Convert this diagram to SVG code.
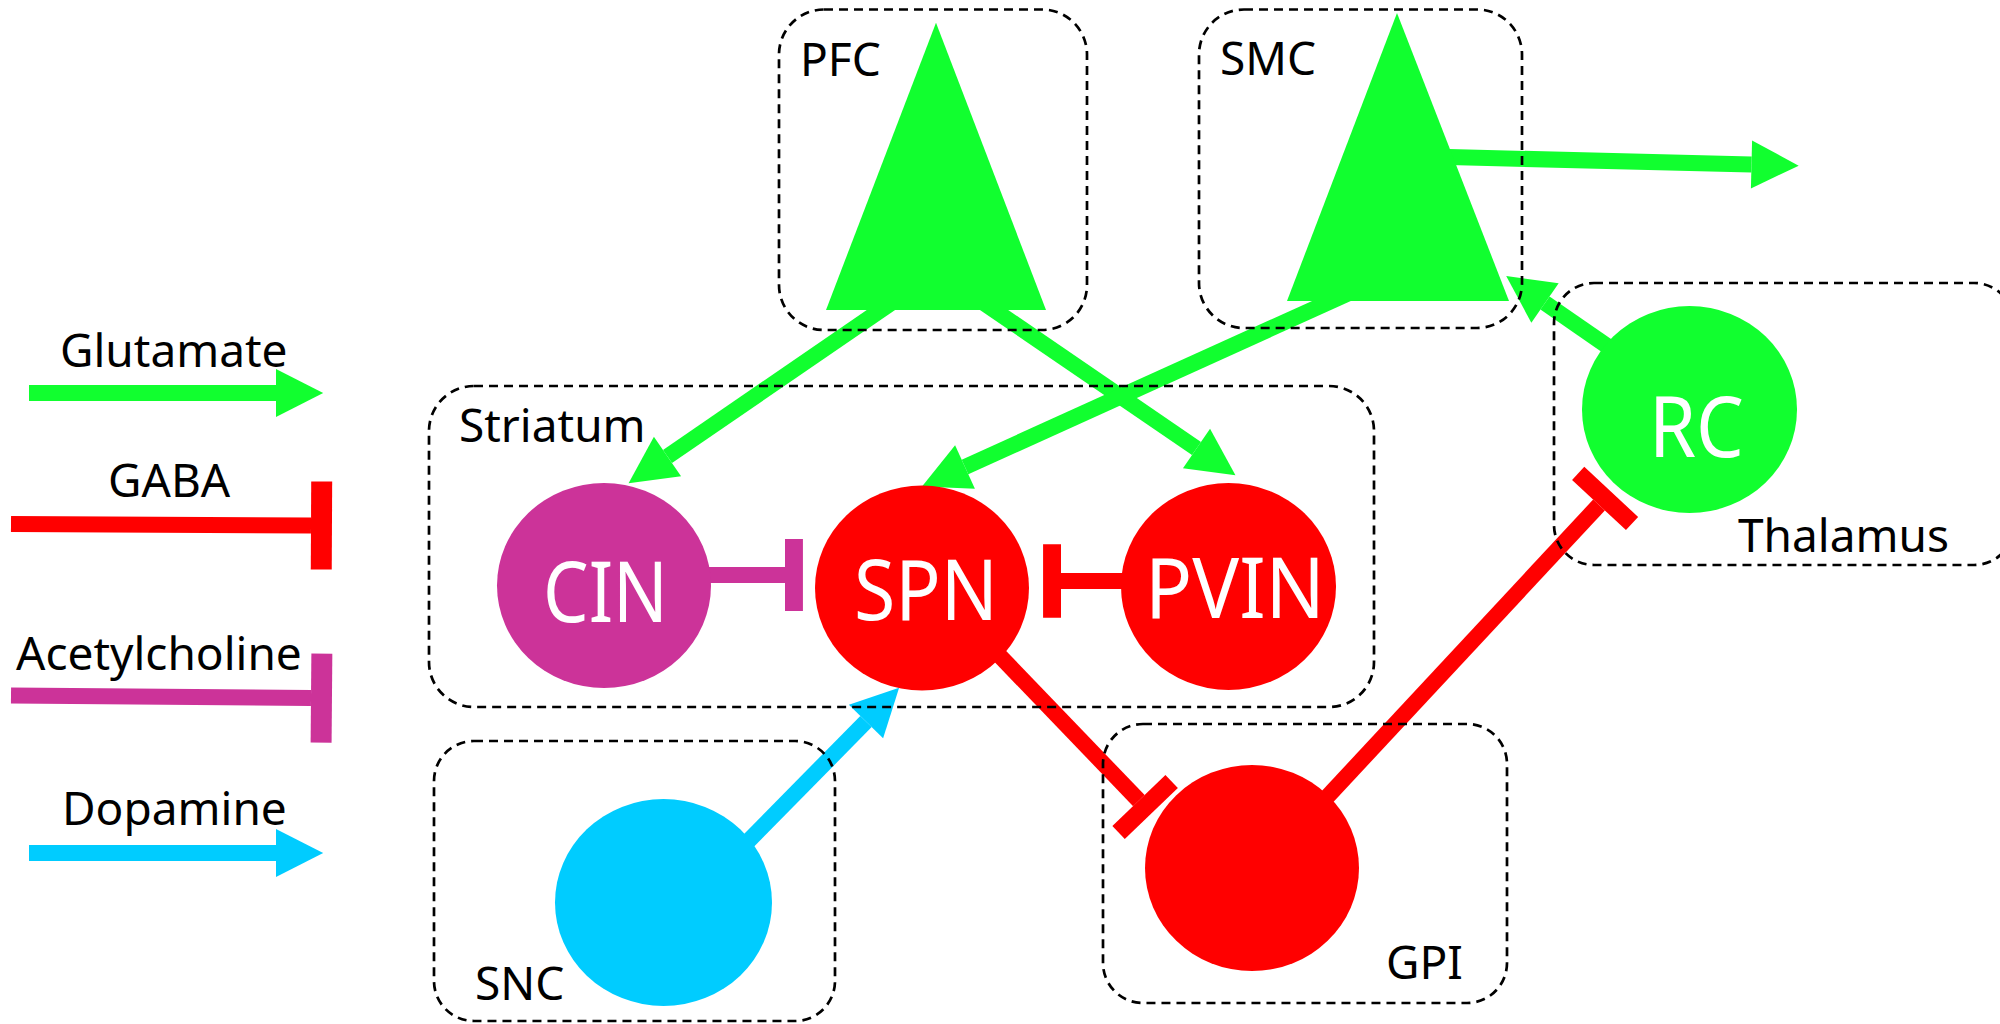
<svg xmlns="http://www.w3.org/2000/svg" width="2000" height="1024" viewBox="0 0 2000 1024">
<style>
.region{fill:none;stroke:#000;stroke-width:2.7;stroke-dasharray:9 6}
.lbl{font-family:"Noto Sans","Open Sans",sans-serif;font-size:46px;fill:#000}
.nlbl{font-family:"Noto Sans","Open Sans",sans-serif;font-size:84px;fill:#fff;text-anchor:middle}
.glu{stroke:#11ff2f;stroke-width:16;fill:none}
.da{stroke:#00ccff;stroke-width:16;fill:none}
.gaba{stroke:#ff0000;stroke-width:16;fill:none}
.ach{stroke:#cc3399;stroke-width:16;fill:none}
</style>
<defs>
<marker id="arGlu" markerWidth="4" markerHeight="4" refX="0" refY="0" orient="auto" overflow="visible"><path d="M0,-1.5 L2.95,0 L0,1.5 Z" fill="#11ff2f"/></marker>
<marker id="arDa" markerWidth="4" markerHeight="4" refX="0" refY="0" orient="auto" overflow="visible"><path d="M0,-1.5 L2.95,0 L0,1.5 Z" fill="#00ccff"/></marker>
<marker id="barGaba" markerWidth="4" markerHeight="6" refX="0" refY="0" orient="auto" overflow="visible"><rect x="0" y="-2.3" width="1.12" height="4.6" fill="#ff0000"/></marker>
<marker id="barAch" markerWidth="4" markerHeight="6" refX="0" refY="0" orient="auto" overflow="visible"><rect x="0" y="-2.25" width="1.12" height="4.5" fill="#cc3399"/></marker>
<marker id="barGabaLg" markerWidth="4" markerHeight="6" refX="0" refY="0" orient="auto" overflow="visible"><rect x="0" y="-2.75" width="1.31" height="5.5" fill="#ff0000"/></marker>
<marker id="barAchLg" markerWidth="4" markerHeight="6" refX="0" refY="0" orient="auto" overflow="visible"><rect x="0" y="-2.78" width="1.31" height="5.56" fill="#cc3399"/></marker>
</defs>

<g id="legend">
<text class="lbl" x="60" y="367">Glutamate</text>
<line class="glu" x1="29" y1="393" x2="276" y2="393" marker-end="url(#arGlu)"/>
<text class="lbl" x="108" y="497">GABA</text>
<line class="gaba" x1="11" y1="524" x2="311" y2="525.5" marker-end="url(#barGabaLg)"/>
<text class="lbl" x="16" y="670">Acetylcholine</text>
<line class="ach" x1="11" y1="695.5" x2="311" y2="698" marker-end="url(#barAchLg)"/>
<text class="lbl" x="62" y="825">Dopamine</text>
<line class="da" x1="29" y1="853" x2="276" y2="853" marker-end="url(#arDa)"/>
</g>

<g id="connectors">
<line class="glu" x1="897.5" y1="298.7" x2="667.5" y2="456.5" marker-end="url(#arGlu)"/>
<line class="glu" x1="977.5" y1="298.7" x2="1196.5" y2="448.5" marker-end="url(#arGlu)"/>
<line class="glu" x1="1349.7" y1="292.7" x2="965" y2="467" marker-end="url(#arGlu)"/>
<line class="glu" x1="1420" y1="156.3" x2="1751.5" y2="164.5" marker-end="url(#arGlu)"/>
<line class="glu" x1="1635.5" y1="365.7" x2="1545" y2="303" marker-end="url(#arGlu)"/>
<line class="da" x1="725.6" y1="864.1" x2="866" y2="721.5" marker-end="url(#arDa)"/>
<line class="ach" x1="680" y1="575" x2="785" y2="575" marker-end="url(#barAch)"/>
<line class="gaba" x1="1160" y1="581" x2="1061" y2="581" marker-end="url(#barGaba)"/>
<line class="gaba" x1="979.5" y1="634.8" x2="1138.9" y2="800.6" marker-end="url(#barGaba)"/>
<line class="gaba" x1="1288" y1="839" x2="1599" y2="505" marker-end="url(#barGaba)"/>
</g>

<g id="PFC-neuron"><polygon points="936,22.7 826,310 1046,310" fill="#11ff2f"/></g>
<g id="SMC-neuron"><polygon points="1397,13 1287,301 1509,301" fill="#11ff2f"/></g>
<g id="CIN"><ellipse cx="604" cy="585.5" rx="107" ry="102.5" fill="#cc3399"/><text class="nlbl" x="605.5" y="622" textLength="125" lengthAdjust="spacingAndGlyphs">CIN</text></g>
<g id="SPN"><ellipse cx="922" cy="588" rx="107" ry="102.5" fill="#ff0000"/><text class="nlbl" x="926" y="620" textLength="144" lengthAdjust="spacingAndGlyphs">SPN</text></g>
<g id="PVIN"><ellipse cx="1228.5" cy="586.5" rx="107.5" ry="103.5" fill="#ff0000"/><text class="nlbl" x="1235" y="618" textLength="180" lengthAdjust="spacingAndGlyphs">PVIN</text></g>
<g id="RC"><ellipse cx="1689.5" cy="409.5" rx="107.5" ry="103.5" fill="#11ff2f"/><text class="nlbl" x="1696.5" y="457" textLength="95" lengthAdjust="spacingAndGlyphs">RC</text></g>
<g id="SNC-neuron"><ellipse cx="663.5" cy="902.5" rx="108.5" ry="103.5" fill="#00ccff"/></g>
<g id="GPI-neuron"><ellipse cx="1252" cy="868" rx="107" ry="103" fill="#ff0000"/></g>

<g id="region-PFC"><rect class="region" x="779" y="9.5" width="308" height="320.5" rx="45" ry="45"/><text class="lbl" x="800" y="76">PFC</text></g>
<g id="region-SMC"><rect class="region" x="1199" y="9.5" width="323" height="318.5" rx="45" ry="45"/><text class="lbl" x="1220" y="75">SMC</text></g>
<g id="region-Striatum"><rect class="region" x="429" y="386" width="945" height="321" rx="45" ry="45"/><text class="lbl" x="459" y="442">Striatum</text></g>
<g id="region-SNC"><rect class="region" x="434" y="741" width="401" height="280" rx="40" ry="40"/><text class="lbl" x="475" y="1000">SNC</text></g>
<g id="region-GPI"><rect class="region" x="1103" y="724" width="404" height="279" rx="40" ry="40"/><text class="lbl" x="1386" y="979">GPI</text></g>
<g id="region-Thalamus"><rect class="region" x="1554" y="283" width="460" height="282" rx="40" ry="40"/><text class="lbl" x="1738" y="552">Thalamus</text></g>
</svg>
